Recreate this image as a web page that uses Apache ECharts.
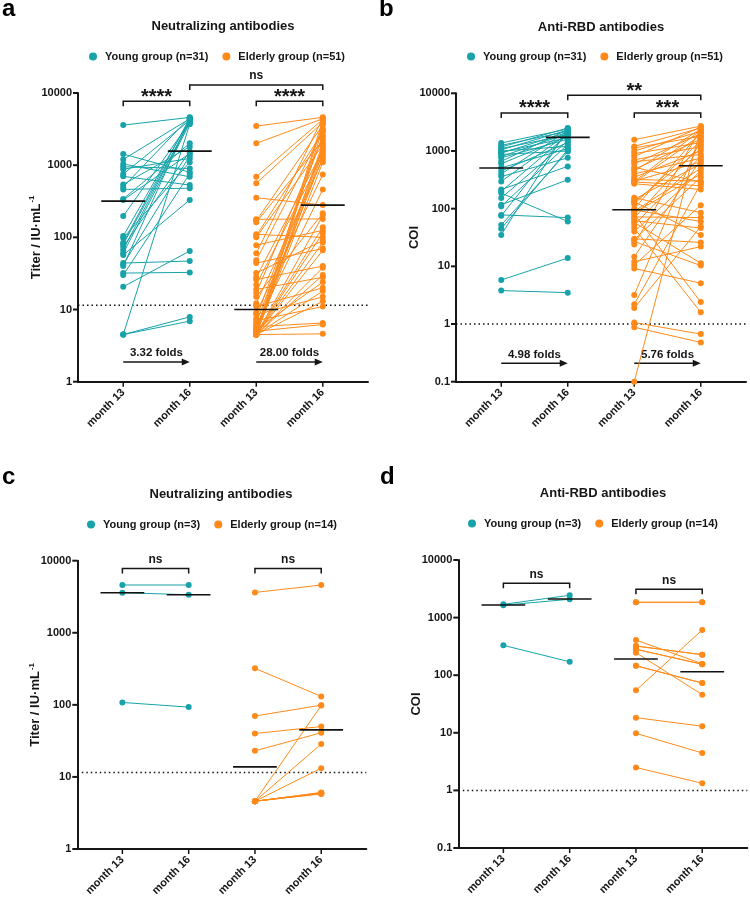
<!DOCTYPE html>
<html>
<head>
<meta charset="utf-8">
<script src="https://cdn.jsdelivr.net/npm/echarts@6/dist/echarts.min.js"></script>
<style>
html,body{margin:0;padding:0;background:#fff;}
#chart{width:750px;height:900px;}
</style>
</head>
<body>
<div id="chart"></div>
<script>
// ---------- data ----------
const xLabels = ['month 13', 'month 16', 'month 13', 'month 16'];
const xTicks = [0, 1, 2, 3];
const yTicksTiter = [1, 10, 100, 1000, 10000];
const yTicksCOI = [0.1, 1, 10, 100, 1000, 10000];

// Panel a: neutralizing antibodies (IU/mL), n=31 young, n=51 elderly
const a_young_m13 = [3590, 1425, 1200, 1040, 950, 880, 753, 700, 540, 500, 462, 340, 329, 197, 104, 98, 84, 80, 74, 67, 60, 57, 44, 42, 40, 32, 30, 20.7, 4.5, 4.5, 4.5];
const a_young_m16 = [4590, 800, 4400, 690, 900, 1240, 4200, 530, 1800, 4600, 480, 2005, 1455, 3900, 4300, 1100, 4500, 4000, 1550, 4100, 3800, 330, 47, 1350, 4450, 32.7, 760, 64.6, 7.9, 6.9, 3700];
const a_elderly_m13 = [3480, 2005, 691, 560, 354, 178, 170, 162, 110, 105, 100, 78, 60, 48, 44, 32, 28, 26, 22, 19, 17, 15, 12.2, 11, 9, 8.5, 7.5, 7, 6.5, 6, 5.8, 5.5, 5.3, 5, 5, 4.8, 4.6, 4.5, 4.5, 4.5, 4.5, 4.5, 4.5, 4.5, 4.5, 4.5, 4.5, 4.5, 4.5, 4.5, 4.5];
const a_elderly_m16 = [4600, 4400, 4300, 3900, 280, 180, 3600, 2200, 100, 2900, 1900, 125, 4500, 3000, 70, 90, 1600, 40, 1400, 28, 2400, 215, 1200, 20, 740, 15, 2600, 11, 1800, 460, 6.5, 1300, 24, 4200, 6.2, 1700, 138, 4.6, 2000, 3200, 85, 1500, 38, 1100, 18, 200, 66, 3800, 30, 115, 13];
const a_medians = [318, 1567, 10, 280];
const a_lod = 11.5;
const a_folds = ['3.32 folds', '28.00 folds'];
const a_sig = ['****', '****', 'ns'];

// Panel b: anti-RBD antibodies (COI)
const b_young_m13 = [1377, 1250, 1170, 1100, 1050, 1000, 950, 920, 870, 800, 760, 660, 600, 510, 450, 400, 360, 296, 215, 200, 186, 153, 117, 110, 78, 75, 52, 45, 35, 5.8, 3.8];
const b_young_m16 = [2400, 2200, 2500, 1900, 2300, 1200, 1700, 2100, 1000, 2000, 1600, 2350, 1800, 1100, 1400, 2250, 760, 2000, 540, 1900, 60, 1500, 317, 1300, 70, 2150, 980, 1050, 2450, 13.9, 3.5];
const b_elderly_m13 = [1570, 1200, 1130, 1000, 900, 800, 700, 650, 600, 520, 480, 450, 400, 350, 320, 300, 295, 290, 280, 270, 155, 145, 132, 130, 120, 100, 95, 90, 85, 80, 72, 69, 62, 58, 52, 46, 40, 30, 29, 27, 24, 14.7, 12, 10.5, 9.2, 3.2, 2.2, 1.9, 1.06, 0.88, 0.1];
const b_elderly_m16 = [2700, 2500, 1800, 2200, 1400, 2600, 1200, 870, 2000, 290, 1600, 2400, 750, 1000, 300, 650, 2300, 250, 1900, 215, 85, 600, 35, 1100, 1500, 2100, 60, 500, 400, 2.4, 70, 1300, 46, 11.3, 800, 1.6, 450, 26, 350, 10.3, 2450, 700, 22, 115, 5.1, 1700, 270, 49, 0.67, 0.48, 2550];
const b_medians = [507, 1722, 96, 555];
const b_lod = 1;
const b_folds = ['4.98 folds', '5.76 folds'];
const b_sig = ['****', '***', '**'];

// Panel c: neutralizing antibodies, n=3 young, n=14 elderly
const c_young_m13 = [4600, 3600, 108];
const c_young_m16 = [4600, 3370, 93];
const c_elderly_m13 = [3630, 321, 70, 40, 23, 4.6, 4.6, 4.6, 4.6, 4.6, 4.6, 4.6, 4.6, 4.6];
const c_elderly_m16 = [4590, 131, 99, 50, 41, 98, 28.6, 13.2, 6.0, 6.0, 5.9, 5.9, 6.1, 5.8];
const c_medians = [3590, 3365, 13.8, 45];
const c_lod = 11.5;
const c_sig = ['ns', 'ns'];

// Panel d: anti-RBD antibodies, n=3 young, n=14 elderly
const d_young_m13 = [1700, 1640, 330];
const d_young_m16 = [2440, 2080, 171];
const d_elderly_m13 = [1845, 408, 321, 282, 246, 146, 54.7, 18.3, 9.8, 2.5, 1845, 282, 321, 146];
const d_elderly_m16 = [1845, 158, 227, 155, 46, 73, 609, 13, 4.46, 1.33, 1845, 155, 227, 73];
const d_medians = [1655, 2104, 191, 115];
const d_lod = 1;
const d_sig = ['ns', 'ns'];

const titles = ['Neutralizing antibodies', 'Anti-RBD antibodies', 'Neutralizing antibodies', 'Anti-RBD antibodies'];
const letters = ['a', 'b', 'c', 'd'];
const yNames = ['Titer / IU·mL', 'COI', 'Titer / IU·mL', 'COI'];
const legendNames = [
  ['Young group (n=31)', 'Elderly group (n=51)'],
  ['Young group (n=31)', 'Elderly group (n=51)'],
  ['Young group (n=3)', 'Elderly group (n=14)'],
  ['Young group (n=3)', 'Elderly group (n=14)']
];

// ---------- style / layout ----------
const TEAL = '#17a3a9';
const ORANGE = '#ff8a1a';
const INK = '#161616';
const FONT = 'Liberation Sans, Arial, sans-serif';

const grids = [
  {left: 78, top: 93, width: 290, height: 288.7},
  {left: 456, top: 93.3, width: 290, height: 288.4},
  {left: 77.3, top: 560.7, width: 289, height: 288.3},
  {left: 458.3, top: 560, width: 289, height: 288}
];
const yRanges = [[1, 10000], [0.1, 10000], [1, 10000], [0.1, 10000]];
const yTickSets = [yTicksTiter, yTicksCOI, yTicksTiter, yTicksCOI];
const xMin = -0.68, xMax = 3.68;

const panels = [
  {ym13: a_young_m13, ym16: a_young_m16, em13: a_elderly_m13, em16: a_elderly_m16, med: a_medians, lod: a_lod},
  {ym13: b_young_m13, ym16: b_young_m16, em13: b_elderly_m13, em16: b_elderly_m16, med: b_medians, lod: b_lod},
  {ym13: c_young_m13, ym16: c_young_m16, em13: c_elderly_m13, em16: c_elderly_m16, med: c_medians, lod: c_lod},
  {ym13: d_young_m13, ym16: d_young_m16, em13: d_elderly_m13, em16: d_elderly_m16, med: d_medians, lod: d_lod}
];

const chart = echarts.init(document.getElementById('chart'), null, {renderer: 'canvas'});

const xAxes = [], yAxes = [], series = [], legends = [];
panels.forEach((p, g) => {
  xAxes.push({
    type: 'value', gridIndex: g, min: xMin, max: xMax,
    splitLine: {show: false},
    axisLine: {show: true, onZero: false, lineStyle: {color: INK, width: 2}},
    axisTick: {show: false},
    axisLabel: {
      customValues: xTicks, rotate: 45, margin: 9,
      fontFamily: FONT, fontWeight: 'bold', fontSize: 11, color: INK,
      formatter: v => xLabels[Math.round(v)]
    }
  });
  const sup = (g === 0 || g === 2);
  yAxes.push({
    type: 'log', logBase: 10, gridIndex: g, min: yRanges[g][0], max: yRanges[g][1],
    splitLine: {show: false},
    axisLine: {show: true, onZero: false, lineStyle: {color: INK, width: 2}},
    axisTick: {show: false},
    axisLabel: {fontFamily: FONT, fontWeight: 'bold', fontSize: 11, color: INK, margin: 6,
      formatter: v => String(+(+v).toPrecision(4))},
    name: sup ? '{n|' + yNames[g] + '}{s|-1}' : '{n|' + yNames[g] + '}',
    nameLocation: 'middle', nameGap: 34, nameMoveOverlap: false,
    nameTextStyle: {
      rich: {
        n: {fontFamily: FONT, fontWeight: 'bold', fontSize: 13, color: INK, lineHeight: 16},
        s: {fontFamily: FONT, fontWeight: 'bold', fontSize: 8, color: INK, lineHeight: 16, verticalAlign: 'top', padding: [0, 0, 8, 1]}
      }
    }
  });
  const addPairs = (name, color, x0, v13, v16) => {
    for (let i = 0; i < v13.length; i++) {
      series.push({
        type: 'line', name: name, xAxisIndex: g, yAxisIndex: g,
        data: [[x0, v13[i]], [x0 + 1, v16[i]]],
        symbol: 'circle', symbolSize: 6, clip: false, silent: true, animation: false,
        lineStyle: {width: 1, color: color}, itemStyle: {color: color}, z: 2
      });
    }
  };
  addPairs(legendNames[g][0], TEAL, 0, p.ym13, p.ym16);
  addPairs(legendNames[g][1], ORANGE, 2, p.em13, p.em16);
  // medians
  p.med.forEach((m, k) => {
    series.push({
      type: 'line', xAxisIndex: g, yAxisIndex: g, data: [[k - 0.33, m], [k + 0.33, m]],
      symbol: 'none', silent: true, animation: false, clip: false,
      lineStyle: {color: '#111', width: 1.6}, z: 5
    });
  });
  // detection limit
  series.push({
    type: 'line', xAxisIndex: g, yAxisIndex: g, data: [[xMin, p.lod], [xMax, p.lod]],
    symbol: 'none', silent: true, animation: false,
    lineStyle: {color: '#111', width: 1.5, type: [1.5, 3]}, z: 1
  });
  const legPos = [[84, 46], [462, 46], [82, 514], [463, 513]][g];
  legends.push({
    data: legendNames[g], left: legPos[0], top: legPos[1], icon: 'circle',
    itemWidth: 8, itemHeight: 8, itemGap: 14, selectedMode: false,
    textStyle: {fontFamily: FONT, fontWeight: 'bold', fontSize: 11, color: INK, padding: [0, 0, 0, 3]}
  });
});

chart.setOption({
  animation: false,
  grid: grids.map(gr => Object.assign({containLabel: false}, gr)),
  xAxis: xAxes, yAxis: yAxes, series: series, legend: legends
});

// ---------- annotations (positioned through the axes) ----------
const px = (g, x, y) => chart.convertToPixel({xAxisIndex: g, yAxisIndex: g}, [x, y]);
const gfx = [];

// axis ticks through the axes' own scales
panels.forEach((p, g) => {
  const yBottom = yRanges[g][0];
  xTicks.forEach(t => {
    const q = px(g, t, yBottom);
    gfx.push({type: 'line', silent: true, shape: {x1: q[0], y1: q[1], x2: q[0], y2: q[1] + 5},
      style: {stroke: INK, lineWidth: 1.5}});
  });
  yTickSets[g].forEach(t => {
    const q = px(g, xMin, t);
    gfx.push({type: 'line', silent: true, shape: {x1: q[0] - 5, y1: q[1], x2: q[0], y2: q[1]},
      style: {stroke: INK, lineWidth: 2}});
  });
});

const titleCenters = [[223, 26], [601, 27], [221, 494], [603, 493]];
titles.forEach((t, g) => {
  gfx.push({type: 'text', x: titleCenters[g][0], y: titleCenters[g][1], silent: true,
    style: {text: t, fontFamily: FONT, fontWeight: 'bold', fontSize: 13, fill: INK, align: 'center', verticalAlign: 'middle'}});
});
const letterPos = [[2, 21], [379, 21], [2, 489], [380, 489]];
letters.forEach((t, g) => {
  gfx.push({type: 'text', x: letterPos[g][0], y: letterPos[g][1], silent: true,
    style: {text: t, fontFamily: FONT, fontWeight: 'bold', fontSize: 24, fill: '#000', align: 'left', verticalAlign: 'bottom'}});
});

// brackets: [grid, x0, x1, level value, text]
const brackets = [
  [0, 0, 1, 7700, a_sig[0]], [0, 2, 3, 7700, a_sig[1]], [0, 1, 3, 12900, a_sig[2]],
  [1, 0, 1, 4570, b_sig[0]], [1, 2, 3, 4570, b_sig[1]], [1, 1, 3, 9230, b_sig[2]],
  [2, 0, 1, 7820, c_sig[0]], [2, 2, 3, 7820, c_sig[1]],
  [3, 0, 1, 3940, d_sig[0]], [3, 2, 3, 3100, d_sig[1]]
];
brackets.forEach(([g, x0, x1, lv, txt]) => {
  const p0 = px(g, x0, lv), p1 = px(g, x1, lv);
  gfx.push({type: 'polyline', silent: true,
    shape: {points: [[p0[0], p0[1] + 5], [p0[0], p0[1]], [p1[0], p1[1]], [p1[0], p1[1] + 5]]},
    style: {stroke: INK, lineWidth: 1.5, fill: null}});
  const isStar = txt.indexOf('*') >= 0;
  gfx.push({type: 'text', silent: true, x: (p0[0] + p1[0]) / 2, y: p0[1] - (isStar ? 4 : 9),
    style: {text: txt, fontFamily: FONT, fontWeight: 'bold',
      fontSize: isStar ? 20 : 12, fill: INK, align: 'center', verticalAlign: 'middle'}});
});

// fold-change arrows: [grid, x0, x1, level, text]
const arrows = [
  [0, 0, 1, 1.87, a_folds[0]], [0, 2, 3, 1.87, a_folds[1]],
  [1, 0, 1, 0.208, b_folds[0]], [1, 2, 3, 0.208, b_folds[1]]
];
arrows.forEach(([g, x0, x1, lv, txt]) => {
  const p0 = px(g, x0, lv), p1 = px(g, x1, lv);
  gfx.push({type: 'line', silent: true, shape: {x1: p0[0], y1: p0[1], x2: p1[0] - 6, y2: p1[1]},
    style: {stroke: INK, lineWidth: 1.5}});
  gfx.push({type: 'polygon', silent: true,
    shape: {points: [[p1[0], p1[1]], [p1[0] - 8, p1[1] - 3.5], [p1[0] - 8, p1[1] + 3.5]]},
    style: {fill: INK}});
  gfx.push({type: 'text', silent: true, x: (p0[0] + p1[0]) / 2, y: p0[1] - 9,
    style: {text: txt, fontFamily: FONT, fontWeight: 'bold', fontSize: 11.5, fill: INK, align: 'center', verticalAlign: 'middle'}});
});

chart.setOption({graphic: gfx});
</script>
</body>
</html>
